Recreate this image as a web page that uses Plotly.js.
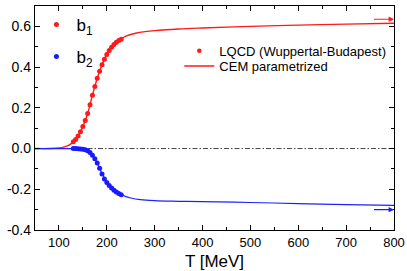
<!DOCTYPE html>
<html>
<head>
<meta charset="utf-8">
<script src="https://cdn.plot.ly/plotly-3.0.1.min.js"></script>
<style>html,body{margin:0;padding:0;background:#fff;}#chart{width:407px;height:271px;}</style>
</head>
<body>
<div id="chart"></div>
<script>
// LQCD (Wuppertal-Budapest) points
const lqcdT1 = [130,135,140,145,150,155,160,165,170,175,180,185,190,195,200,205,210,215,220,225,230];
const lqcdB1 = [0.033,0.045,0.062,0.083,0.108,0.138,0.172,0.215,0.262,0.305,0.345,0.380,0.412,0.438,0.462,0.481,0.497,0.511,0.522,0.530,0.537];
const lqcdT2 = [130,135,140,145,150,155,160,165,170,175,180,185,190,195,200,205,210,215,220,225,230];
const lqcdB2 = [0.000,0.000,-0.001,-0.002,-0.003,-0.006,-0.011,-0.020,-0.033,-0.050,-0.071,-0.097,-0.125,-0.149,-0.167,-0.181,-0.194,-0.205,-0.214,-0.221,-0.227];
// CEM parametrized curves
const cemT1 = [50,80,100,110,120,130,140,150,160,170,180,190,200,210,220,230,240,260,280,300,350,400,500,600,700,800];
const cemB1 = [0,0,0.003,0.007,0.015,0.032,0.062,0.108,0.172,0.262,0.345,0.412,0.462,0.497,0.522,0.538,0.552,0.566,0.574,0.579,0.587,0.592,0.600,0.606,0.611,0.615];
const cemT2 = [50,100,120,140,150,160,170,180,190,200,210,220,230,240,250,270,300,350,400,500,600,700,800];
const cemB2 = [0,0,0,-0.001,-0.003,-0.010,-0.032,-0.071,-0.123,-0.164,-0.193,-0.213,-0.226,-0.236,-0.243,-0.251,-0.256,-0.259,-0.261,-0.265,-0.270,-0.275,-0.279];
// Stefan-Boltzmann limits (arrows)
const sbB1 = 0.635;
const sbB2 = -0.300;
const arrowFromT = 755;
const arrowToT = 800;
// ticks
const yTickVals = [-0.4,-0.2,0,0.2,0.4,0.6];
const yTickText = ["-0.4","-0.2","0.0","0.2","0.4","0.6"];
const xTickVals = [100,200,300,400,500,600,700,800];

const font = "Liberation Sans, Arial, sans-serif";

const traces = [
  {x: cemT1, y: cemB1, mode: 'lines', line: {color: '#ff1a1a', width: 1.4, shape: 'spline'}, name: 'CEM parametrized', legend: 'legend4', showlegend: true},
  {x: cemT2, y: cemB2, mode: 'lines', line: {color: '#2020ff', width: 1.2, shape: 'spline'}, showlegend: false},
  {x: lqcdT1, y: lqcdB1, mode: 'markers', marker: {color: '#ff1a1a', size: 5}, name: 'b<sub>1</sub>', legend: 'legend'},
  {x: lqcdT2, y: lqcdB2, mode: 'markers', marker: {color: '#1a1aff', size: 5}, name: 'b<sub>2</sub>', legend: 'legend2'},
  {x: [null], y: [null], mode: 'markers', marker: {color: '#ff1a1a', size: 4.5}, name: 'LQCD (Wuppertal-Budapest)', legend: 'legend3', showlegend: true}
];

const axisCommon = {
  showline: true, linecolor: '#000', linewidth: 1.2, mirror: 'allticks',
  ticks: 'inside', ticklen: 5, tickwidth: 1, tickcolor: '#000',
  showgrid: false, zeroline: false,
};

const legBase = {bgcolor: 'rgba(0,0,0,0)', borderwidth: 0, xanchor: 'left', yanchor: 'middle', itemclick: false};

const layout = {
  width: 407, height: 271,
  margin: {l: 35, r: 13, t: 6, b: 41},
  paper_bgcolor: '#fff', plot_bgcolor: '#fff',
  font: {family: font, color: '#000'},
  xaxis: Object.assign({}, axisCommon, {
    range: [50, 800], tickvals: xTickVals,
    tickfont: {size: 13, family: font},
    minor: {dtick: 50, tick0: 0, ticks: 'inside', ticklen: 3, tickcolor: '#000'},
    title: {text: 'T [MeV]', font: {size: 17, family: font}, standoff: 7}
  }),
  yaxis: Object.assign({}, axisCommon, {
    range: [-0.4, 0.7], tickvals: yTickVals, ticktext: yTickText,
    tickfont: {size: 14, family: font},
    minor: {dtick: 0.1, tick0: 0, ticks: 'inside', ticklen: 3, tickcolor: '#000'}
  }),
  showlegend: true,
  legend: Object.assign({}, legBase, {x: 0.004, y: 0.915, font: {size: 17, family: font}}),
  legend2: Object.assign({}, legBase, {x: 0.004, y: 0.772, font: {size: 17, family: font}}),
  legend3: Object.assign({}, legBase, {x: 0.402, y: 0.80, font: {size: 13, family: font}}),
  legend4: Object.assign({}, legBase, {x: 0.402, y: 0.732, font: {size: 13, family: font}}),
  shapes: [
    {type: 'line', xref: 'paper', yref: 'y', x0: 0, x1: 1, y0: 0, y1: 0,
     line: {color: '#444', width: 1, dash: '5px,2px,1.5px,2px'}, layer: 'below'}
  ],
  annotations: [
    {x: arrowToT, y: sbB1, ax: arrowFromT, ay: sbB1, xref: 'x', yref: 'y', axref: 'x', ayref: 'y',
     showarrow: true, arrowhead: 2, arrowsize: 0.9, arrowwidth: 1.2, arrowcolor: '#ff1a1a', text: ''},
    {x: arrowToT, y: sbB2, ax: arrowFromT, ay: sbB2, xref: 'x', yref: 'y', axref: 'x', ayref: 'y',
     showarrow: true, arrowhead: 2, arrowsize: 0.9, arrowwidth: 1.2, arrowcolor: '#1a1aff', text: ''}
  ]
};

Plotly.newPlot('chart', traces, layout, {staticPlot: true, displayModeBar: false});
</script>
</body>
</html>
